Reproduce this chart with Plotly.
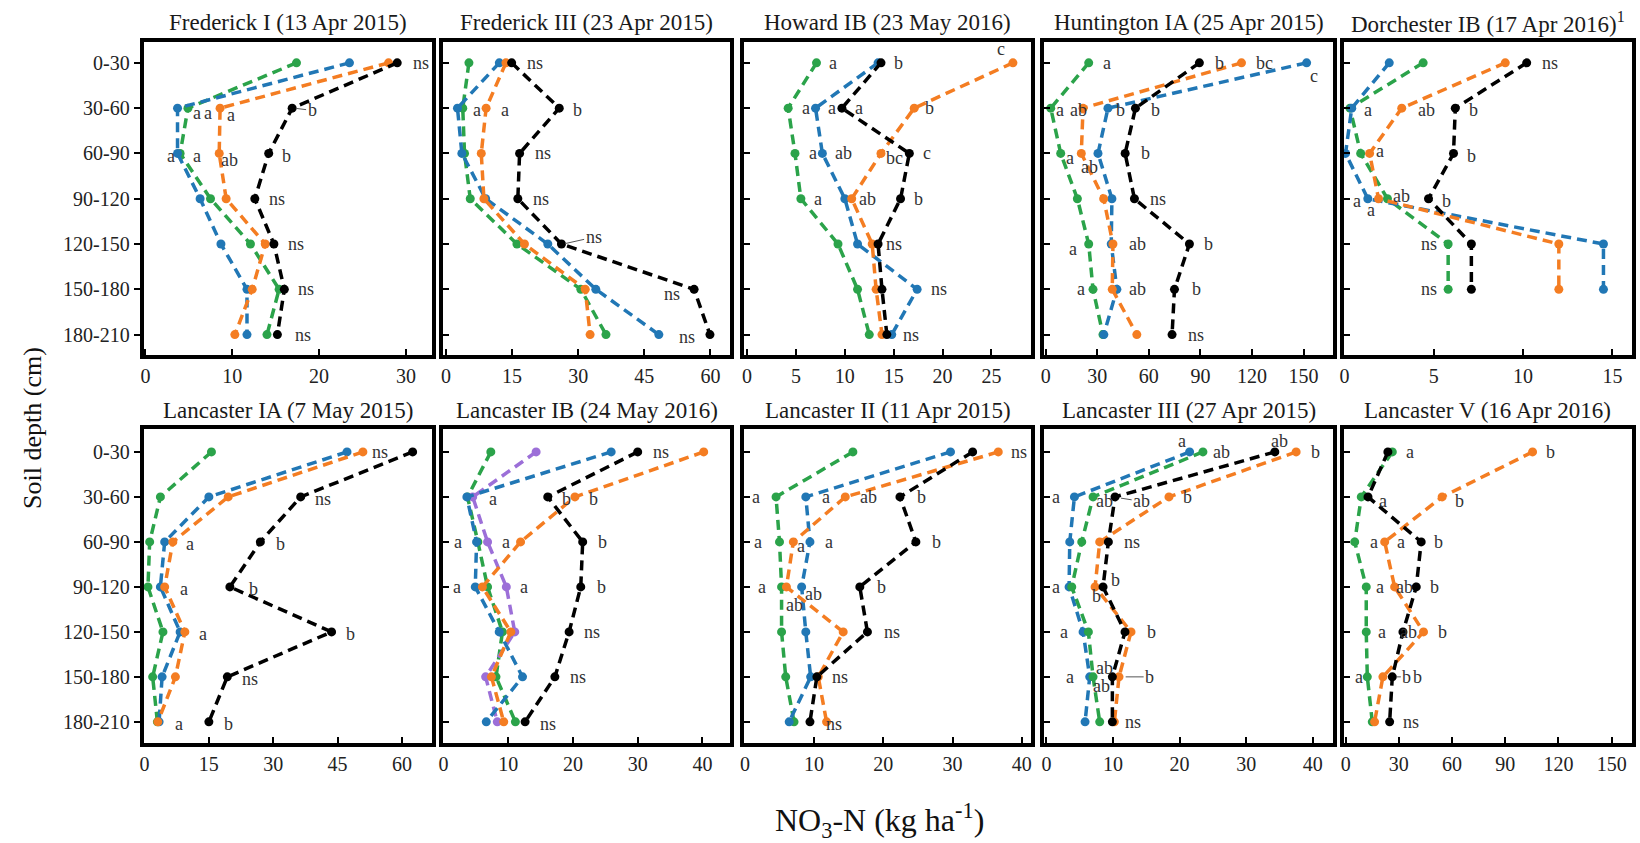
import plotly.graph_objects as go

# ---------------------------------------------------------------- data
DEPTHS = ["0-30", "30-60", "60-90", "90-120", "120-150", "150-180", "180-210"]

# Frederick I (13 Apr 2015)
f1_green = [17.4, 4.9, 4.0, 7.5, 12.1, 15.4, 14.0]
f1_blue = [23.5, 3.7, 3.7, 6.3, 8.7, 11.7, 11.7]
f1_orange = [28.0, 8.6, 8.5, 9.3, 13.8, 12.3, 10.3]
f1_black = [29.0, 16.9, 14.2, 12.6, 14.8, 16.0, 15.2]

# Frederick III (23 Apr 2015)
f3_green = [5.2, 3.8, 4.2, 5.5, 16.1, 30.6, 36.3]
f3_blue = [12.1, 2.6, 3.6, 9.0, 23.1, 34.0, 48.3]
f3_orange = [13.6, 9.1, 8.0, 8.6, 17.8, 31.6, 32.7]
f3_black = [14.9, 25.7, 16.7, 16.3, 26.2, 56.3, 59.9]

# Howard IB (23 May 2016)
h_green = [7.1, 4.2, 4.9, 5.5, 9.3, 11.3, 12.5]
h_blue = [13.4, 7.0, 7.7, 10.0, 11.3, 17.4, 14.8]
h_orange = [27.2, 17.1, 13.7, 10.7, 12.8, 13.2, 13.8]
h_black = [13.7, 9.7, 16.6, 15.7, 13.4, 13.8, 14.3]

# Huntington IA (25 Apr 2015)
hu_green = [25.0, 2.9, 8.7, 18.4, 25.0, 27.5, 33.3]
hu_blue = [151.8, 36.2, 30.4, 38.5, 38.1, 41.4, 33.8]
hu_orange = [113.9, 21.7, 20.7, 33.7, 39.1, 38.7, 53.0]
hu_black = [89.4, 52.2, 46.2, 51.6, 83.6, 74.9, 73.5]

# Dorchester IB (17 Apr 2016) - no 180-210 sample
d_green = [4.4, 0.3, 0.9, 2.4, 5.8, 5.8, None]
d_blue = [2.5, 0.4, 0.05, 1.3, 14.5, 14.5, None]
d_orange = [9.0, 3.2, 1.4, 1.9, 12.0, 12.0, None]
d_black = [10.2, 6.2, 6.1, 4.7, 7.1, 7.1, None]

# Lancaster IA (7 May 2015)
la_green = [15.6, 3.7, 1.2, 0.8, 4.3, 1.9, 3.0]
la_blue = [47.2, 15.0, 4.7, 3.7, 8.3, 4.1, 3.4]
la_orange = [50.9, 19.5, 6.6, 4.7, 9.4, 7.2, 3.1]
la_black = [62.5, 36.4, 27.0, 19.9, 43.6, 19.3, 15.0]

# Lancaster IB (24 May 2016)
lb_green = [7.3, 3.7, 5.3, 6.8, 9.1, 8.1, 11.1]
lb_purple = [14.3, 4.5, 6.8, 9.7, 11.0, 6.5, 8.3]
lb_blue = [25.9, 3.6, 5.1, 4.9, 8.6, 12.2, 6.6]
lb_orange = [40.2, 20.3, 11.9, 6.0, 10.4, 7.4, 9.3]
lb_black = [30.0, 16.1, 21.5, 21.2, 19.4, 17.2, 12.6]

# Lancaster II (11 Apr 2015)
l2_green = [15.6, 4.5, 5.0, 5.3, 5.3, 5.9, 7.1]
l2_blue = [29.7, 8.8, 9.4, 8.2, 8.8, 9.5, 6.4]
l2_orange = [36.6, 14.5, 7.0, 6.0, 14.2, 10.6, 11.8]
l2_black = [32.9, 22.4, 24.7, 16.6, 17.7, 10.4, 9.4]

# Lancaster III (27 Apr 2015)
l3_blue = [21.5, 4.2, 3.5, 3.4, 5.5, 6.5, 5.8]
l3_green = [23.5, 7.0, 5.3, 3.8, 6.3, 7.0, 8.0]
l3_black = [34.3, 10.3, 9.3, 8.5, 11.8, 9.9, 9.9]
l3_orange = [37.5, 18.4, 8.0, 7.3, 12.7, 10.9, 10.2]

# Lancaster V (16 Apr 2016)
l5_green = [26.3, 8.8, 5.1, 11.6, 11.6, 12.2, 15.0]
l5_orange = [105.4, 54.4, 22.0, 27.6, 43.9, 21.0, 16.3]
l5_black = [23.8, 12.6, 42.6, 39.8, 32.3, 26.3, 24.8]

# ------------------------------------------------ significance letters
# (text, x, depth row)
f1_labels = [("ns", 31.7, 0), ("a", 6.0, 1.1), ("a", 7.2, 1.1), ("a", 9.9, 1.15),
             ("a", 2.9, 2.05), ("a", 5.9, 2.05), ("ab", 9.7, 2.15), ("b", 16.3, 2.05),
             ("ns", 15.2, 3), ("ns", 17.3, 4), ("ns", 18.5, 5), ("ns", 18.1, 6)]
f3_labels = [("ns", 20.1, 0), ("a", 7.1, 1.05), ("a", 13.5, 1.05), ("b", 29.9, 1.05),
             ("ns", 21.9, 2), ("ns", 21.6, 3), ("ns", 51.3, 5.1), ("ns", 54.8, 6.05)]
h_labels = [("a", 8.8, 0), ("b", 15.5, 0), ("c", 26.0, -0.3), ("a", 6.0, 1), ("a", 8.7, 1),
            ("a", 11.4, 1), ("b", 18.7, 1), ("a", 6.7, 2), ("ab", 9.9, 2), ("bc", 15.1, 2.1),
            ("c", 18.4, 2), ("a", 7.3, 3), ("ab", 12.3, 3), ("b", 17.5, 3), ("ns", 15.0, 4),
            ("ns", 19.6, 5), ("ns", 16.8, 6)]
hu_labels = [("a", 35.8, 0), ("b", 101, 0), ("bc", 127, 0), ("c", 156, 0.3), ("a", 8.1, 1.05),
             ("ab", 19.1, 1.05), ("b", 43.5, 1.05), ("b", 63.6, 1.05), ("a", 13.9, 2.1),
             ("ab", 25.5, 2.3), ("b", 57.8, 2), ("ns", 65.2, 3), ("a", 15.9, 4.1),
             ("ab", 53.2, 4), ("b", 94.6, 4), ("a", 20.7, 5), ("ab", 53.6, 5), ("b", 88.0, 5),
             ("ns", 87.4, 6)]
d_labels = [("ns", 11.5, 0), ("a", 1.3, 1.05), ("ab", 4.6, 1.05), ("b", 7.2, 1.05),
            ("a", 2.0, 1.95), ("b", 7.1, 2.05), ("a", 0.7, 3.05), ("a", 1.5, 3.25),
            ("ab", 3.2, 2.95), ("b", 5.7, 3.05), ("ns", 4.7, 4), ("ns", 4.7, 5)]
la_labels = [("ns", 54.8, 0), ("ns", 41.7, 1.05), ("a", 10.7, 2.05), ("b", 31.6, 2.05),
             ("a", 9.1, 3.05), ("b", 25.3, 3.05), ("a", 13.6, 4.05), ("b", 47.9, 4.05),
             ("ns", 24.7, 5.05), ("a", 8.0, 6.05), ("b", 19.5, 6.05)]
lb_labels = [("ns", 33.6, 0), ("a", 7.6, 1.05), ("b", 19.0, 1.05), ("b", 23.1, 1.05),
             ("a", 2.2, 2), ("a", 9.7, 2), ("b", 24.5, 2), ("a", 2.0, 3), ("a", 12.4, 3),
             ("b", 24.4, 3), ("ns", 22.9, 4), ("ns", 20.8, 5), ("ns", 16.1, 6.05)]
l2_labels = [("ns", 39.6, 0), ("a", 1.6, 1), ("a", 11.7, 1), ("ab", 17.8, 1), ("b", 25.5, 1),
             ("a", 1.9, 2), ("a", 8.1, 2.1), ("a", 12.2, 2), ("b", 27.7, 2), ("a", 2.4, 3),
             ("ab", 9.9, 3.15), ("ab", 7.2, 3.4), ("b", 19.8, 3), ("ns", 21.2, 4),
             ("ns", 13.7, 5), ("ns", 12.9, 6.05)]
l3_labels = [("a", 20.3, -0.25), ("ab", 26.3, 0), ("ab", 35.0, -0.25), ("b", 40.4, 0),
             ("a", 1.4, 1), ("ab", 8.7, 1.1), ("b", 21.2, 1), ("ns", 12.9, 2), ("a", 1.5, 3),
             ("b", 10.3, 2.85), ("b", 7.5, 3.2), ("a", 2.7, 4), ("b", 15.8, 4),
             ("ab", 8.7, 4.8), ("a", 3.5, 5), ("ab", 8.2, 5.2), ("ns", 13.0, 6)]
l5_labels = [("a", 36.0, 0), ("b", 115.8, 0), ("a", 21.0, 1.1), ("b", 64.2, 1.1),
             ("a", 15.8, 2), ("a", 31.3, 2), ("b", 52.5, 2), ("a", 19.1, 3), ("ab", 33.2, 3),
             ("b", 50.1, 3), ("a", 20.6, 4), ("ab", 35.6, 4), ("b", 54.4, 4), ("a", 7.5, 5),
             ("b", 40.7, 5), ("ns", 37.0, 6)]

# letters tied to a point with a short leader: (text, x, row, point x, point row)
f1_leaders = [("b", 19.2, 1.05, 17.1, 1.0)]
f3_leaders = [("ns", 33.5, 3.85, 26.6, 4.0)]
l3_leaders = [("ab", 14.3, 1.1, 10.9, 1.02), ("b", 15.5, 5.0, 11.6, 5.0)]
l5_leaders = [("b", 34.5, 5.0, 27.5, 5.0)]

# ---------------------------------------------------------------- style
COLORS = {"green": "#2ba34a", "blue": "#2177b5", "orange": "#f47d22",
          "purple": "#9c6fd8", "black": "#000000"}
FONT = "Times New Roman, Liberation Serif, serif"
W, H = 1640, 843
COL_X = [(140, 429), (440, 728), (742, 1030), (1043, 1332), (1343, 1632)]
ROW_Y = [(42, 355), (429, 743)]
ROW_YRANGE = [[6.45, -0.46], [6.47, -0.51]]
TITLE_Y = [22, 410]

panels = [
    dict(title="Frederick I (13 Apr 2015)",
         series=[("green", f1_green), ("blue", f1_blue), ("orange", f1_orange), ("black", f1_black)],
         labels=f1_labels, leaders=f1_leaders, xr=[-0.2, 33.0], dtick=10),
    dict(title="Frederick III (23 Apr 2015)",
         series=[("green", f3_green), ("blue", f3_blue), ("orange", f3_orange), ("black", f3_black)],
         labels=f3_labels, leaders=f3_leaders, xr=[-0.7, 64.5], dtick=15),
    dict(title="Howard IB (23 May 2016)",
         series=[("green", h_green), ("blue", h_blue), ("orange", h_orange), ("black", h_black)],
         labels=h_labels, leaders=[], xr=[-0.3, 29.1], dtick=5),
    dict(title="Huntington IA (25 Apr 2015)",
         series=[("green", hu_green), ("blue", hu_blue), ("orange", hu_orange), ("black", hu_black)],
         labels=hu_labels, leaders=[], xr=[-0.75, 167], dtick=30),
    dict(title="Dorchester IB (17 Apr 2016)<sup>1</sup>",
         series=[("green", d_green), ("blue", d_blue), ("orange", d_orange), ("black", d_black)],
         labels=d_labels, leaders=[], xr=[-0.05, 16.1], dtick=5),
    dict(title="Lancaster IA (7 May 2015)",
         series=[("green", la_green), ("blue", la_blue), ("orange", la_orange), ("black", la_black)],
         labels=la_labels, leaders=[], xr=[-0.2, 67.0], dtick=15),
    dict(title="Lancaster IB (24 May 2016)",
         series=[("green", lb_green), ("purple", lb_purple), ("blue", lb_blue),
                 ("orange", lb_orange), ("black", lb_black)],
         labels=lb_labels, leaders=[], xr=[-0.1, 44.3], dtick=10),
    dict(title="Lancaster II (11 Apr 2015)",
         series=[("green", l2_green), ("blue", l2_blue), ("orange", l2_orange), ("black", l2_black)],
         labels=l2_labels, leaders=[], xr=[-0.1, 41.4], dtick=10),
    dict(title="Lancaster III (27 Apr 2015)",
         series=[("blue", l3_blue), ("green", l3_green), ("orange", l3_orange), ("black", l3_black)],
         labels=l3_labels, leaders=l3_leaders, xr=[-0.3, 43.0], dtick=10),
    dict(title="Lancaster V (16 Apr 2016)",
         series=[("green", l5_green), ("orange", l5_orange), ("black", l5_black)],
         labels=l5_labels, leaders=l5_leaders, xr=[-1.1, 161.5], dtick=30),
]

fig = go.Figure()
annotations = []
layout_axes = {}
rows_idx = list(range(len(DEPTHS)))

for i, p in enumerate(panels):
    n = i + 1
    r, c = divmod(i, 5)
    xa = "x" if n == 1 else f"x{n}"
    ya = "y" if n == 1 else f"y{n}"
    xkey = "xaxis" if n == 1 else f"xaxis{n}"
    ykey = "yaxis" if n == 1 else f"yaxis{n}"

    for cname, vals in p["series"]:
        fig.add_trace(go.Scatter(
            x=vals, y=rows_idx, xaxis=xa, yaxis=ya, mode="lines+markers",
            line=dict(color=COLORS[cname], width=3.5, dash="10px,6px"),
            marker=dict(color=COLORS[cname], size=9),
            showlegend=False, hoverinfo="x+y"))

    x0, x1 = COL_X[c]
    y0, y1 = ROW_Y[r]
    layout_axes[xkey] = dict(
        domain=[x0 / W, x1 / W], anchor=ya, range=p["xr"], tick0=0, dtick=p["dtick"],
        showline=True, mirror=True, linewidth=4, linecolor="black",
        ticks="inside", ticklen=6, tickwidth=1.5, tickcolor="black",
        showgrid=False, zeroline=False,
        tickfont=dict(family=FONT, size=20, color="#222"))
    layout_axes[ykey] = dict(
        domain=[1 - y1 / H, 1 - y0 / H], anchor=xa, range=ROW_YRANGE[r],
        tickvals=rows_idx, ticktext=DEPTHS, showticklabels=(c == 0),
        showline=True, mirror=True, linewidth=4, linecolor="black",
        ticks="outside" if c == 0 else "inside", ticklen=6, tickwidth=1.5, tickcolor="black",
        showgrid=False, zeroline=False,
        tickfont=dict(family=FONT, size=20, color="#222"))

    # panel title
    annotations.append(dict(
        text=p["title"], xref="paper", yref="paper", x=(x0 + x1) / 2 / W,
        y=1 - TITLE_Y[r] / H, xanchor="center", yanchor="middle", showarrow=False,
        font=dict(family=FONT, size=23, color="#1a1a1a")))

    for txt, lx, ly in p["labels"]:
        annotations.append(dict(
            text=txt, xref=xa, yref=ya, x=lx, y=ly, showarrow=False,
            xanchor="center", yanchor="middle",
            font=dict(family=FONT, size=18, color="#333")))
    for txt, lx, ly, px, py in p["leaders"]:
        annotations.append(dict(
            text=txt, xref=xa, yref=ya, x=px, y=py, ax=lx, ay=ly, axref=xa, ayref=ya,
            showarrow=True, arrowhead=0, arrowwidth=1, arrowcolor="#555", standoff=2,
            xanchor="center", yanchor="middle",
            font=dict(family=FONT, size=18, color="#333")))

# shared axis titles
annotations.append(dict(
    text="Soil depth (cm)", xref="paper", yref="paper", x=28 / W, y=1 - 428 / H,
    textangle=-90, showarrow=False, xanchor="center", yanchor="middle",
    font=dict(family=FONT, size=26, color="#111")))
annotations.append(dict(
    text="NO<sub>3</sub>-N (kg ha<sup>-1</sup>)", xref="paper", yref="paper",
    x=878 / W, y=1 - 820 / H, showarrow=False, xanchor="center", yanchor="middle",
    font=dict(family=FONT, size=32, color="#111")))

fig.update_layout(
    width=W, height=H, margin=dict(l=0, r=0, t=0, b=0),
    paper_bgcolor="white", plot_bgcolor="white",
    font=dict(family=FONT),
    annotations=annotations, **layout_axes)

fig.write_html("out.html")
